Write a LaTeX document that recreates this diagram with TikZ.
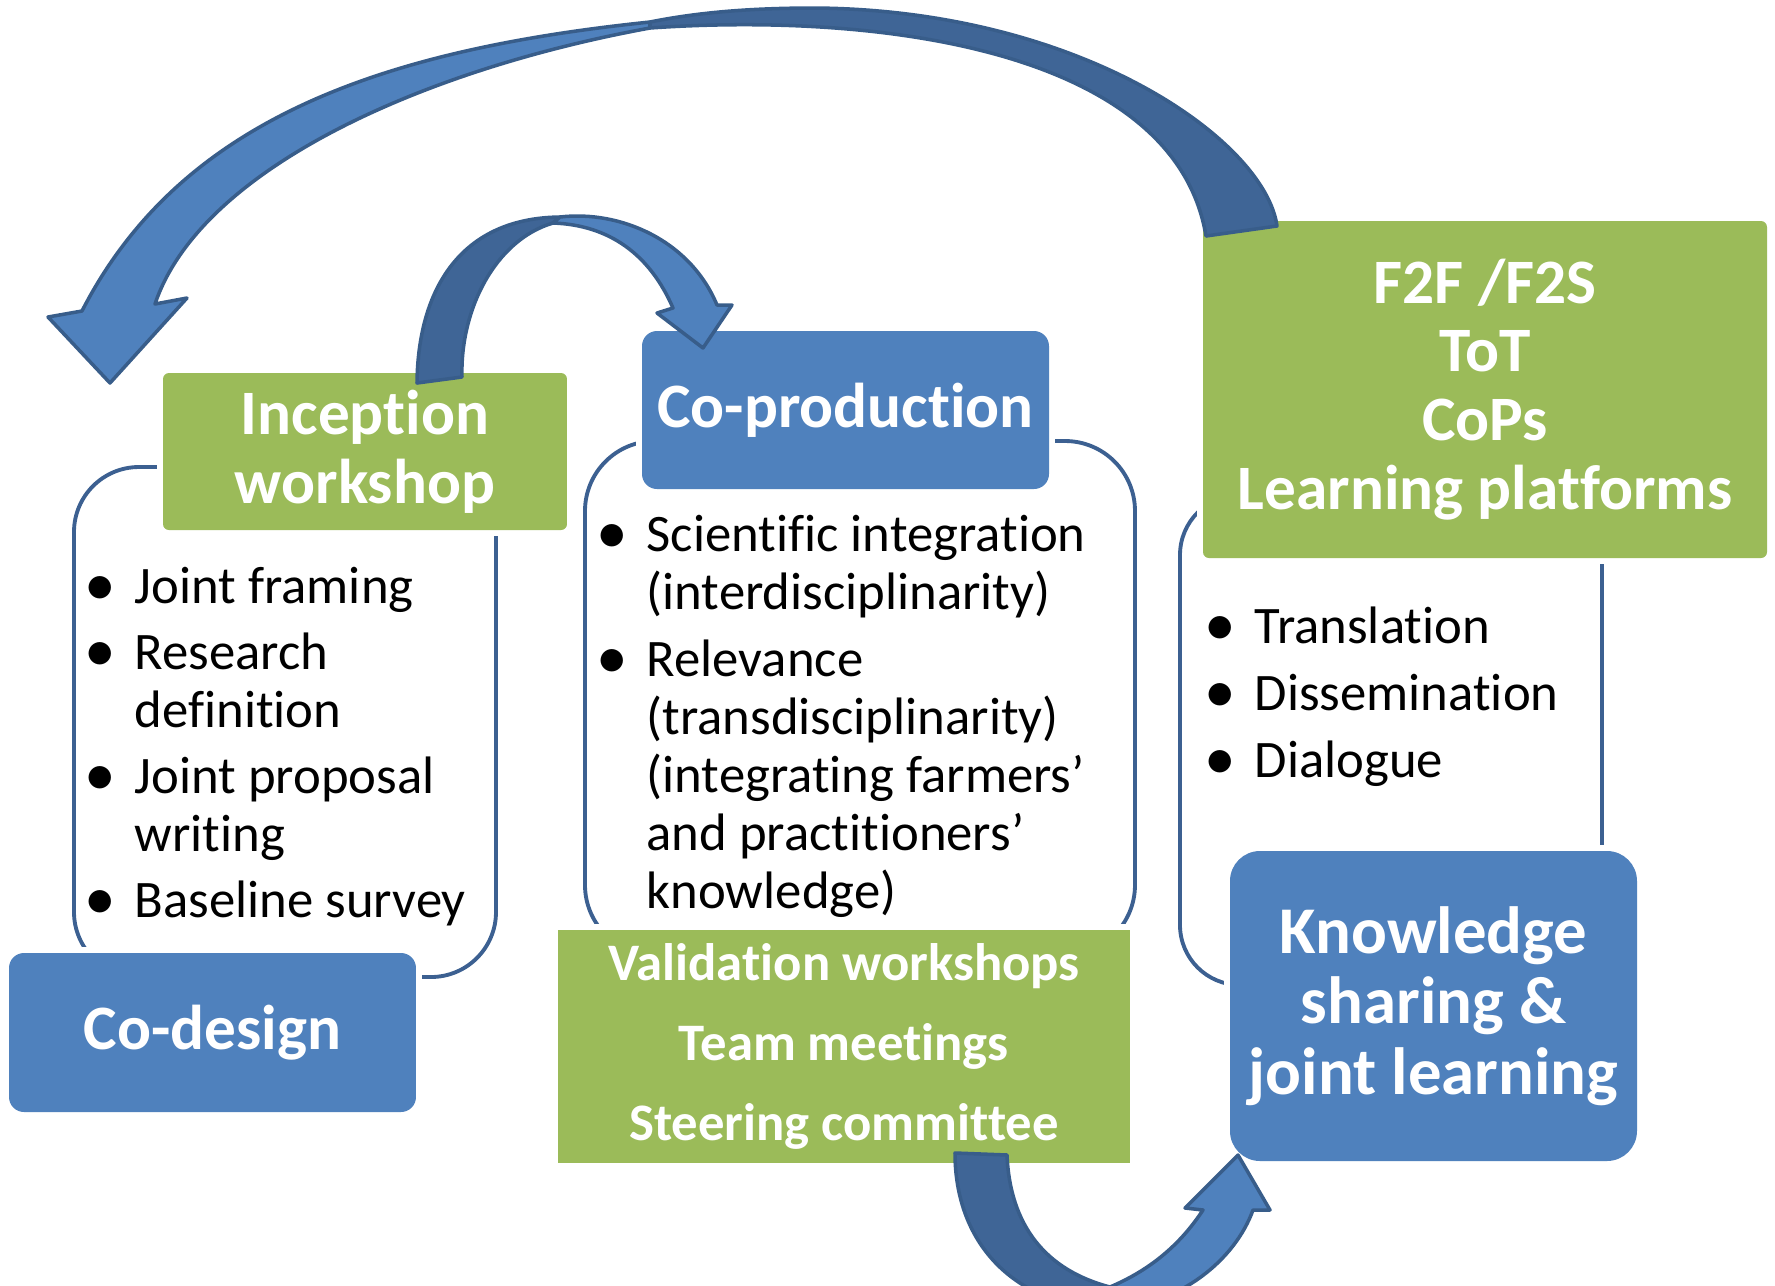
\documentclass[tikz,border=0pt]{standalone}
\usepackage{fontspec}
\setmainfont{Carlito}[Ligatures={TeX,NoCommon}]
\usepackage{tikz}
\usetikzlibrary{arrows}
\definecolor{boxblue}{HTML}{4F81BD}
\definecolor{boxgreen}{HTML}{9BBB59}
\definecolor{backblue}{HTML}{3F6596}
\definecolor{rimblue}{HTML}{385D8A}
\definecolor{phaseblue}{HTML}{3C6091}
\newcommand{\itemdot}{\raisebox{-0.7pt}{\fontsize{18}{16.5}\selectfont\textbullet}}

\begin{document}
\begin{tikzpicture}[line cap=round,line join=round,x=0.1mm,y=-0.1mm,
	bluebox/.style={fill=boxblue,rounded corners=1.5mm,preaction={draw=white,line width=3.4pt},text=white,align=center,inner sep=0pt,font=\bfseries\fontsize{18}{19.6}\selectfont},
	greenbox/.style={fill=boxgreen,rounded corners=0.6mm,preaction={draw=white,line width=3.4pt},text=white,align=center,inner sep=0pt,font=\bfseries\fontsize{18}{19.6}\selectfont},
	phaseline/.style={draw=phaseblue,line width=1.1pt},
	bulletlist/.style={anchor=base west,inner sep=0pt,font=\fontsize{15}{16.5}\selectfont},
	backface/.style={fill=backblue,draw=rimblue,line width=1pt},
	frontface/.style={fill=boxblue,draw=rimblue,line width=1pt}]
	\useasboundingbox (0,0) rectangle (1775,1285);
	\clip (0,0) rectangle (1775,1285);
	
	%%%% PHASE OUTLINES
	\draw[phaseline,rounded corners=6.5mm] (74,467) rectangle (496,977);
	\draw[phaseline,rounded corners=7mm] (585,441) rectangle (1135,955);
	\draw[phaseline,rounded corners=6mm] (1180,495) rectangle (1602,985);
	
	%%%% CO-DESIGN
	\node[greenbox,minimum width=40.4mm,minimum height=15.7mm] (incep) at (365,451.5) {Inception\\workshop};
	\node[bluebox,minimum width=40.7mm,minimum height=15.9mm] (codesign) at (212.5,1032.5) {Co-design};
	\node[bulletlist] (codesignlist) at (84,603) {\begin{tabular}[t]{@{}p{5mm}@{}l@{}}
			\itemdot & Joint framing\\[2.3pt]
			\itemdot & Research\\
			& definition\\[2.3pt]
			\itemdot & Joint proposal\\
			& writing\\[2.3pt]
			\itemdot & Baseline survey
		\end{tabular}};
	
	%%%% CO-PRODUCTION
	\node[bluebox,minimum width=40.7mm,minimum height=15.8mm] (coprod) at (845.5,410) {Co-production};
	\node[greenbox,rounded corners=0pt,minimum width=57.2mm,minimum height=23.3mm,font=\bfseries\fontsize{15}{22.8}\selectfont] (valid) at (844,1046.5) {Validation workshops\\Team meetings\\Steering committee};
	\node[bulletlist] (coprodlist) at (596,551) {\begin{tabular}[t]{@{}p{5mm}@{}l@{}}
			\itemdot & Scientific integration\\
			& (interdisciplinarity)\\[2.6pt]
			\itemdot & Relevance\\
			& (transdisciplinarity)\\
			& (integrating farmers'\\
			& and practitioners'\\
			& knowledge)
		\end{tabular}};
	
	%%%% KNOWLEDGE SHARING
	\node[greenbox,minimum width=56.4mm,minimum height=33.7mm] (platforms) at (1485,389.5) {F2F /F2S\\ToT\\CoPs\\Learning platforms};
	\node[bluebox,rounded corners=3mm,minimum width=40.7mm,minimum height=31mm,font=\bfseries\fontsize{19}{20}\selectfont] (know) at (1433.5,1006) {Knowledge\\sharing \&\\joint learning};
	\node[bulletlist] (knowlist) at (1204,643) {\begin{tabular}[t]{@{}p{5mm}@{}l@{}}
			\itemdot & Translation\\[2.6pt]
			\itemdot & Dissemination\\[2.6pt]
			\itemdot & Dialogue
		\end{tabular}};
	
	%%%% ARROWS
	% platforms back to the start
	\draw[backface] (1277,226) .. controls (1265,140) and (1080,10) .. (815,8) .. controls (740,8) and (690,14) .. (650,22) -- (650,28) .. controls (880,12) and (1175,50) .. (1206,236) -- cycle;
	\draw[frontface] (650,22) .. controls (380,50) and (180,120) .. (82,311) -- (48,317) -- (110,383) -- (187,298) -- (155,304) .. controls (200,170) and (420,70) .. (650,28) -- cycle;
	% inception to co-production
	\draw[backface] (417,383) .. controls (418,290) and (460,218) .. (560,217) -- (553,223) .. controls (495,240) and (460,310) .. (462,377) -- cycle;
	\draw[frontface] (560,217) .. controls (620,210) and (690,240) .. (717,305) -- (732,305) -- (703,348) -- (657,313) -- (673,308) .. controls (650,255) and (610,225) .. (553,223) -- cycle;
	% co-production to knowledge sharing
	\draw[backface] (955,1153) .. controls (955,1240) and (1010,1305) .. (1110,1310) -- (1110,1287) .. controls (1045,1270) and (1010,1225) .. (1007,1155) -- cycle;
	\draw[frontface] (1110,1287) .. controls (1150,1270) and (1180,1245) .. (1203,1210) -- (1185,1208) -- (1238,1155) -- (1270,1210) -- (1253,1210) .. controls (1235,1260) and (1180,1305) .. (1110,1310) -- cycle;
\end{tikzpicture}
\end{document}
